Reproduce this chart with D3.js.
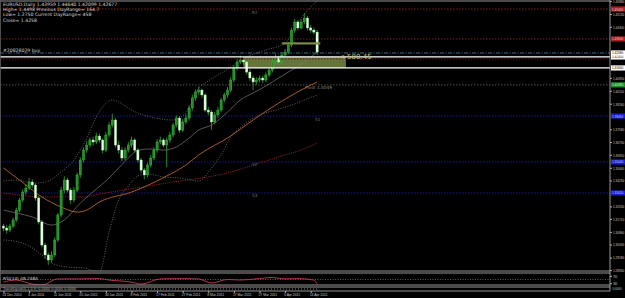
<!DOCTYPE html>
<html><head><meta charset="utf-8">
<script src="https://cdn.jsdelivr.net/npm/d3@7"></script>
<style>
html,body{margin:0;padding:0;background:#000;overflow:hidden;}
svg{display:block;font-family:"DejaVu Sans",Verdana,sans-serif;}
</style></head><body>
<svg id="c" width="625" height="298"></svg>
<script>
// ---------- DATA ----------
const dateLabels = ["23 Dec 2010","3 Jan 2011","11 Jan 2011","20 Jan 2011","30 Jan 2011","8 Feb 2011","17 Feb 2011","27 Feb 2011","8 Mar 2011","17 Mar 2011","27 Mar 2011","5 Apr 2011","14 Apr 2011"];
const dateIndex = [0,8,16,24,32,40,48,56,64,72,80,88,96];

const opens = [1.3124,1.3111,1.3098,1.3124,1.3164,1.3229,1.3295,1.3347,1.3373,1.3413,
 1.3393,1.3308,1.3151,1.3000,1.2935,1.2902,1.2935,1.3033,1.3197,1.3360,
 1.3426,1.3360,1.3295,1.3360,1.3459,1.3557,1.3622,1.3655,1.3688,1.3675,
 1.3714,1.3688,1.3622,1.3721,1.3786,1.3819,1.3655,1.3622,1.3570,1.3622,
 1.3655,1.3688,1.3622,1.3557,1.3491,1.3459,1.3524,1.3570,1.3622,1.3675,
 1.3688,1.3655,1.3688,1.3721,1.3786,1.3832,1.3753,1.3806,1.3832,1.3898,
 1.3963,1.4002,1.4015,1.3983,1.3884,1.3871,1.3806,1.3852,1.3884,1.3950,
 1.3983,1.4015,1.4081,1.4160,1.4199,1.4212,1.4199,1.4133,1.4094,1.4068,
 1.4081,1.4094,1.4081,1.4114,1.4146,1.4199,1.4225,1.4199,1.4245,1.4264,
 1.4310,1.4408,1.4461,1.4422,1.4461,1.4487,1.4422,1.4408,1.4395];
const highs = [1.3140,1.3130,1.3140,1.3180,1.3245,1.3310,1.3365,1.3400,1.3440,1.3430,
 1.3405,1.3320,1.3165,1.3015,1.2950,1.2960,1.3050,1.3210,1.3380,1.3450,
 1.3440,1.3375,1.3380,1.3475,1.3575,1.3640,1.3680,1.3705,1.3710,1.3735,
 1.3730,1.3700,1.3740,1.3805,1.3860,1.3830,1.3680,1.3640,1.3640,1.3675,
 1.3710,1.3700,1.3635,1.3570,1.3505,1.3540,1.3590,1.3640,1.3695,1.3710,
 1.3700,1.3705,1.3740,1.3800,1.3850,1.3845,1.3825,1.3855,1.3915,1.3985,
 1.4020,1.4035,1.4025,1.3995,1.3905,1.3885,1.3870,1.3905,1.3965,1.4000,
 1.4035,1.4100,1.4180,1.4220,1.4240,1.4230,1.4215,1.4150,1.4110,1.4100,
 1.4110,1.4110,1.4130,1.4165,1.4215,1.4250,1.4240,1.4265,1.4285,1.4330,
 1.4425,1.4480,1.4475,1.4480,1.4520,1.4500,1.4440,1.4425,1.4410];
const lows = [1.3090,1.3075,1.3085,1.3110,1.3150,1.3215,1.3280,1.3330,1.3360,1.3375,
 1.3290,1.3135,1.2985,1.2910,1.2870,1.2885,1.2920,1.3020,1.3180,1.3340,
 1.3345,1.3270,1.3280,1.3345,1.3440,1.3540,1.3605,1.3640,1.3650,1.3660,
 1.3670,1.3600,1.3610,1.3705,1.3770,1.3640,1.3600,1.3550,1.3555,1.3605,
 1.3640,1.3605,1.3540,1.3470,1.3430,1.3445,1.3510,1.3555,1.3605,1.3660,
 1.3640,1.3510,1.3670,1.3705,1.3770,1.3735,1.3740,1.3790,1.3815,1.3880,
 1.3945,1.3985,1.3965,1.3870,1.3850,1.3755,1.3790,1.3835,1.3870,1.3935,
 1.3965,1.4000,1.4065,1.4145,1.4185,1.4180,1.4115,1.4075,1.4015,1.4050,
 1.4065,1.4060,1.4065,1.4100,1.4130,1.4185,1.4180,1.4185,1.4230,1.4250,
 1.4295,1.4390,1.4405,1.4410,1.4445,1.4405,1.4390,1.4380,1.4245];
const closes = [1.3111,1.3098,1.3124,1.3164,1.3229,1.3295,1.3347,1.3373,1.3413,1.3393,
 1.3308,1.3151,1.3000,1.2935,1.2902,1.2935,1.3033,1.3197,1.3360,1.3426,
 1.3360,1.3295,1.3360,1.3459,1.3557,1.3622,1.3655,1.3688,1.3675,1.3714,
 1.3688,1.3622,1.3721,1.3786,1.3819,1.3655,1.3622,1.3570,1.3622,1.3655,
 1.3688,1.3622,1.3557,1.3491,1.3459,1.3524,1.3570,1.3622,1.3675,1.3688,
 1.3655,1.3688,1.3721,1.3786,1.3832,1.3753,1.3806,1.3832,1.3898,1.3963,
 1.4002,1.4015,1.3983,1.3884,1.3871,1.3806,1.3852,1.3884,1.3950,1.3983,
 1.4015,1.4081,1.4160,1.4199,1.4212,1.4199,1.4133,1.4094,1.4068,1.4081,
 1.4094,1.4081,1.4114,1.4146,1.4199,1.4225,1.4199,1.4245,1.4264,1.4310,
 1.4408,1.4461,1.4422,1.4461,1.4487,1.4422,1.4408,1.4395,1.4264];

// indicator lines: [bar index, price]
const bandMiddle = [[0,1.3229],[4,1.3210],[9,1.3184],[15,1.3131],[19,1.3164],[24,1.3275],[29,1.3367],[33,1.3439],[36,1.3505],[40,1.3590],[42,1.3622],[46,1.3629],[50,1.3622],[54,1.3642],[58,1.3701],[61,1.3753],[65,1.3786],[70,1.3871],[74,1.3950],[78,1.3996],[82,1.4042],[86,1.4094],[90,1.4146],[94,1.4199],[98,1.4264]];
const bandUpper = [[0,1.3419],[4,1.3426],[9,1.3406],[13,1.3413],[18,1.3478],[22,1.3557],[24,1.3622],[26,1.3701],[29,1.3839],[34,1.3950],[36,1.3937],[40,1.3884],[46,1.3839],[53,1.3819],[57,1.3865],[61,1.4029],[63,1.4061],[71,1.4166],[74,1.4212],[76,1.4232],[82,1.4278],[88,1.4323],[91,1.4422],[94,1.4513],[97,1.4579],[98,1.4598]];
const bandLower = [[0,1.3033],[6,1.3013],[12,1.2935],[15,1.2882],[20,1.2856],[25,1.2850],[30,1.2823],[33,1.3085],[36,1.3295],[39,1.3387],[42,1.3452],[45,1.3465],[50,1.3446],[55,1.3439],[61,1.3419],[65,1.3505],[68,1.3590],[71,1.3708],[75,1.3786],[80,1.3852],[85,1.3884],[90,1.3917],[94,1.3950],[98,1.3983]];
const maOrange = [[0,1.3505],[5,1.3426],[12,1.3315],[18,1.3249],[23,1.3216],[26,1.3229],[30,1.3282],[40,1.3347],[51,1.3452],[57,1.3524],[61,1.3590],[71,1.3714],[78,1.3819],[86,1.3930],[93,1.4015],[98,1.4068]];
const maRed = [[0,1.3341],[13,1.3315],[25,1.3315],[30,1.3334],[51,1.3406],[71,1.3478],[80,1.3537],[88,1.3590],[93,1.3622],[98,1.3668]];
const rsiPts = [[0,36],[4,47],[9,25],[12,20],[17,53],[24,53],[30,55],[33,47],[40,36],[43,25],[49,53],[56,55],[61,53],[65,31],[70,50],[74,47],[80,55],[84,61],[88,53],[92,55],[97,47],[98,25]];

const priceTicks = [1.28360,1.29180,1.30030,1.30860,1.31710,1.32530,1.33380,1.34230,1.35060,1.35910,1.36750,1.37580,1.38430,1.39260,1.40110,1.40950,1.41780,1.42630,1.43450,1.44300,1.45130,1.45980];

const pivotNames = ["R2","R1","Pivot","S1","S2","S3"];
const pivotPrices = [1.4546,1.4350,1.4049,1.3845,1.3544,1.3341];
const orderPrice = 1.4258;
const hLinePrices = [1.4232,1.4160];
const stopPrice = 1.4219;
const zoneTop = 1.4232, zoneBottom = 1.4160, zoneFrom = 75, zoneTo = 107;
const barTop = 1.4328, barFrom = 87, barTo = 99;
const headerLines = ["EURUSD,Daily  1.43959 1.44640 1.42099 1.42677","High= 1.4498 Previous DayRange= 164.7","Low= 1.2750 Current DayRange= 458","Close= 1.4258"];

// ---------- DRAW ----------
const W=625,H=298,PR=610;
const AX='"Liberation Sans",Arial,sans-serif';
const SX=0.74;
const svg=d3.select('#c');
svg.append('rect').attr('width',W).attr('height',H).attr('fill','#000');
const defs=svg.append('defs');
defs.append('clipPath').attr('id','cm').append('rect').attr('x',0).attr('y',1).attr('width',PR).attr('height',270);
defs.append('clipPath').attr('id','cr').append('rect').attr('x',0).attr('y',273).attr('width',PR).attr('height',12);

const x=d3.scaleLinear().domain([0,98]).range([3.5,317.1]);
const y=d3.scaleLinear().domain([1.28365,1.45985]).range([270,1]);

const g=svg.append('g').attr('clip-path','url(#cm)');

// zone rectangle (background object)
g.append('rect').attr('x',x(zoneFrom)).attr('width',x(zoneTo)-x(zoneFrom))
 .attr('y',y(zoneTop)).attr('height',y(zoneBottom)-y(zoneTop)).attr('fill','#66753a');

// pivot lines
const pivColor=['#7a2020','#7a2020','#505050','#1a1a90','#1a1a90','#1a1a90'];
pivotPrices.forEach((p,i)=>{
  g.append('line').attr('x1',0).attr('x2',PR).attr('y1',y(p)).attr('y2',y(p))
   .attr('stroke',pivColor[i]).attr('stroke-width',1).attr('stroke-dasharray','1.5,1.5');
});

// moving averages / bands
const ln=d3.line().x(d=>x(d[0])).y(d=>y(d[1])).curve(d3.curveMonotoneX);
g.append('path').attr('d',ln(maRed)).attr('fill','none').attr('stroke','#8a1c1c').attr('stroke-width',1).attr('stroke-dasharray','1.2,1');
g.append('path').attr('d',ln(maOrange)).attr('fill','none').attr('stroke','#b8642a').attr('stroke-width',0.9);
g.append('path').attr('d',ln(bandMiddle)).attr('fill','none').attr('stroke','#7a7a7a').attr('stroke-width',0.7);
g.append('path').attr('d',ln(bandUpper)).attr('fill','none').attr('stroke','#8a8a8a').attr('stroke-width',0.7).attr('stroke-dasharray','1,1.5');
g.append('path').attr('d',ln(bandLower)).attr('fill','none').attr('stroke','#8a8a8a').attr('stroke-width',0.7).attr('stroke-dasharray','1,1.5');

// candles
const idx=d3.range(opens.length);
g.selectAll('line.w').data(idx).enter().append('line')
 .attr('x1',i=>x(i)).attr('x2',i=>x(i)).attr('y1',i=>y(highs[i])).attr('y2',i=>y(lows[i]))
 .attr('stroke','#3aa83a').attr('stroke-width',0.8);
g.selectAll('rect.b').data(idx).enter().append('rect')
 .attr('x',i=>x(i)-1.1).attr('width',2.2)
 .attr('y',i=>y(Math.max(opens[i],closes[i])))
 .attr('height',i=>Math.max(0.8,Math.abs(y(opens[i])-y(closes[i]))))
 .attr('fill',i=>closes[i]>=opens[i]?'#238f23':'#e4ffe4')
 .attr('stroke',i=>closes[i]>=opens[i]?'#3cc03c':'#a8e8a8').attr('stroke-width',0.4);

// olive bar
g.append('rect').attr('x',x(barFrom)).attr('width',x(barTo)-x(barFrom)).attr('y',y(barTop)).attr('height',2.2).attr('fill','#7c8a44');

// order line & stop
g.append('line').attr('x1',0).attr('x2',PR).attr('y1',y(orderPrice)).attr('y2',y(orderPrice))
 .attr('stroke','#3c6f8c').attr('stroke-width',1).attr('stroke-dasharray','4,1.5,1,1.5');
g.append('line').attr('x1',0).attr('x2',PR).attr('y1',y(stopPrice)).attr('y2',y(stopPrice))
 .attr('stroke','#6a1818').attr('stroke-width',1).attr('stroke-dasharray','1.5,1.5');
hLinePrices.forEach(p=>{
  g.append('line').attr('x1',0).attr('x2',PR).attr('y1',y(p)).attr('y2',y(p)).attr('stroke','#ffffff').attr('stroke-width',1.2);
});

// texts in main
const fs=4.6;
headerLines.forEach((t,i)=>{
  svg.append('text').attr('x',3).attr('y',6+i*5.2).attr('font-size',fs).attr('fill','#d8d8d8').text(t);
});
svg.append('text').attr('x',3).attr('y',y(orderPrice)-0.8).attr('font-size',fs).attr('fill','#d0d0d0').text('#20828029 buy');
const lbl=(t,xx,yy,c)=>svg.append('text').attr('x',xx).attr('y',yy).attr('font-size',4.3).attr('fill',c).text(t);
lbl('R2',252,y(pivotPrices[0])+4.5,'#707070');
lbl('S1',315,y(pivotPrices[3])+4.5,'#707070');
lbl('S2',252,y(pivotPrices[4])+4.5,'#707070');
lbl('S3',252,y(pivotPrices[5])+4.5,'#707070');
lbl('Pivot 1.4049',305,y(pivotPrices[2])+4.3,'#8a8a8a');
svg.append('text').attr('x',339).attr('y',59).attr('font-size',7).attr('fill','#c8c074').text('<  580.45');

// ---------- RSI panel ----------
const ry=d3.scaleLinear().domain([20,80]).range([285,274]);
const rg=svg.append('g').attr('clip-path','url(#cr)');
rg.append('line').attr('x1',0).attr('x2',PR).attr('y1',ry(50)).attr('y2',ry(50)).attr('stroke','#9a9a9a').attr('stroke-width',0.6).attr('stroke-dasharray','1,1.5');
const rl=d3.line().x(d=>x(d[0])).y(d=>ry(d[1])).curve(d3.curveMonotoneX);
rg.append('path').attr('d',rl(rsiPts)).attr('fill','none').attr('stroke','#c83a58').attr('stroke-width',0.9);
svg.append('text').attr('x',3).attr('y',279.5).attr('font-size',4.3).attr('fill','#d0d0d0').text('RSI(14) 48.2484');

// lower tiny panel
svg.append('line').attr('x1',118).attr('x2',318).attr('y1',289).attr('y2',289).attr('stroke','#d8d8d8').attr('stroke-width',0.8).attr('stroke-dasharray','0.8,2.2');
svg.append('text').attr('x',3).attr('y',290.3).attr('font-size',3.4).attr('fill','#c0c0c0').text('TrendSignal(0,1,0.5) 0.0000 0.0000 0.0000');

// panel frames
const fr=[1,271,273,285,287,291];
fr.forEach(v=>svg.append('line').attr('x1',0).attr('x2',PR).attr('y1',v).attr('y2',v).attr('stroke','#a8a8a8').attr('stroke-width',0.9));
svg.append('line').attr('x1',PR).attr('x2',PR).attr('y1',0).attr('y2',291).attr('stroke','#a8a8a8').attr('stroke-width',0.9);
svg.append('line').attr('x1',0.5).attr('x2',0.5).attr('y1',0).attr('y2',291).attr('stroke','#606060').attr('stroke-width',0.8);

// ---------- axes ----------
const boxPrices=[...pivotPrices,orderPrice,...hLinePrices];
const visTicks=priceTicks.filter(t=>boxPrices.every(b=>Math.abs(y(t)-y(b))>4.5));
const ya=svg.append('g').attr('transform',`translate(${PR},0)`)
 .call(d3.axisRight(y).tickValues(visTicks).tickSize(2).tickFormat(d3.format('.5f')));
ya.select('.domain').remove();
ya.selectAll('line').attr('stroke','#b0b0b0');
ya.selectAll('text').attr('x',3/SX).attr('font-size',4.2).attr('fill','#c8c8c8').attr('font-family',AX)
  .attr('transform',`scale(${SX},1)`);

// colored price labels
const box=(p,bg,fg)=>{
  const yy=y(p);
  svg.append('rect').attr('x',PR+1).attr('y',yy-2.6).attr('width',14).attr('height',5.2).attr('fill',bg);
  svg.append('text').attr('transform',`translate(${PR+2},${yy+1.5}) scale(${SX},1)`).attr('font-size',4.2).attr('font-family',AX).attr('fill',fg)
    .text(d3.format('.5f')(p));
};
box(pivotPrices[0],'#a82020','#ffc8c8');
box(pivotPrices[1],'#a82020','#ffc8c8');
box(pivotPrices[2],'#208a20','#c8ffc8');
box(pivotPrices[3],'#1c1cd0','#c8c8ff');
box(pivotPrices[4],'#1c1cd0','#c8c8ff');
box(pivotPrices[5],'#1c1cd0','#c8c8ff');
box(hLinePrices[0],'#ffffff','#000');
box(orderPrice,'#ffffff','#000');
box(hLinePrices[1],'#ffffff','#000');

// RSI axis labels
const ra=svg.append('g').attr('transform',`translate(${PR},0)`).call(d3.axisRight(ry).tickValues([70,30]).tickSize(2));
ra.select('.domain').remove();
ra.selectAll('line').attr('stroke','#b0b0b0');
ra.selectAll('text').attr('x',3).attr('font-size',3.8).attr('font-family',AX).attr('fill','#c8c8c8');
svg.append('text').attr('transform',`translate(${PR+2.5},290.3) scale(${SX},1)`).attr('font-size',3.4).attr('font-family',AX).attr('fill','#c8c8c8')
  .text('0.00000');

const xa=svg.append('g').attr('transform','translate(0,291)')
 .call(d3.axisBottom(x).tickValues(dateIndex).tickSize(2).tickFormat((d,i)=>dateLabels[i]));
xa.select('.domain').remove();
xa.selectAll('line').attr('stroke','#b0b0b0');
xa.selectAll('text').attr('text-anchor','start').attr('x',-1.5/0.8).attr('y',1.6).attr('font-size',4.2)
  .attr('font-family',AX).attr('fill','#c8c8c8').attr('transform','scale(0.8,1)');
</script>
</body></html>
